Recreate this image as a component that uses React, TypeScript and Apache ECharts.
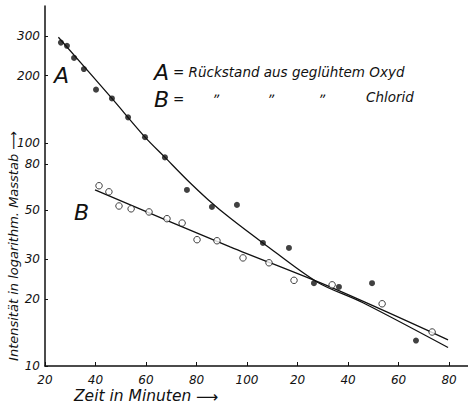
import React, { useEffect, useRef } from "react";
import * as echarts from "echarts";

// x axis (Zeit in Minuten)
const xTicks = [20, 40, 60, 80, 100, 120, 140, 160, 180];
const xTickLabels = ["20", "40", "60", "80", "100", "20", "40", "60", "80"];
// y axis (log)
const yTickValues = [10, 20, 30, 50, 80, 100, 200, 300];

// A = Rückstand aus geglühtem Oxyd (filled dots)
const aTimes = [26.3, 28.7, 31.5, 35.4, 40.2, 46.5, 52.9, 59.6, 67.5, 76.2, 86.1, 96.0, 106.3, 116.6, 126.5, 136.4, 149.5, 166.9];
const aValues = [281, 272, 240, 214, 173, 158, 130, 106, 86, 61.5, 51.6, 52.7, 35.6, 33.8, 23.5, 22.6, 23.5, 13.0];

// B = Chlorid (open circles)
const bTimes = [41.4, 45.3, 49.3, 54.1, 61.2, 68.3, 74.3, 80.2, 88.1, 98.4, 108.7, 118.6, 133.7, 153.5, 173.3];
const bValues = [64.2, 60.3, 52.1, 50.6, 49.0, 45.7, 43.7, 36.8, 36.4, 30.5, 29.0, 24.2, 23.1, 19.0, 14.2];

// fitted curves
const aCurveTimes = [25.3, 46.5, 59.6, 67.5, 76.2, 84.6, 93.3, 106.3, 127.7, 145.9, 179.6];
const aCurveValues = [297, 158, 106, 86, 68.3, 55.6, 46, 35.6, 23.8, 19.2, 12.1];
const bCurveTimes = [39.8, 93.3, 132.9, 179.6];
const bCurveValues = [61.5, 34.2, 22.6, 13.1];

const FONT = "'DejaVu Sans', sans-serif";
const INK = "#111";

const zip = (xs: number[], ys: number[]) => xs.map((x, i) => [x, ys[i]]);

export default function App() {
  const ref = useRef<HTMLDivElement>(null);
  useEffect(() => {
    if (!ref.current) return;
    const chart = echarts.init(ref.current, null, { renderer: "svg" });
    const txt = (text: string, x: number, y: number, size: number, extra: any = {}) => ({
      type: "text",
      x,
      y,
      style: {
        text,
        fill: INK,
        font: `italic ${size}px ${FONT}`,
        textVerticalAlign: "middle",
        ...extra,
      },
    });
    chart.setOption({
      animation: false,
      backgroundColor: "#fff",
      grid: { left: 45, right: 0, top: 6, bottom: 40, containLabel: false, outerBoundsMode: "none" },
      xAxis: {
        type: "value",
        min: 20,
        max: 187.5,
        interval: 20,
        axisLine: { lineStyle: { color: INK, width: 1.5 } },
        axisTick: { inside: true, length: 4, lineStyle: { color: INK } },
        splitLine: { show: false },
        axisLabel: {
          color: INK,
          fontFamily: FONT,
          fontStyle: "italic",
          fontSize: 12,
          margin: 8,
          showMaxLabel: false,
          formatter: (v: number) => {
            const i = xTicks.indexOf(v);
            return i >= 0 ? xTickLabels[i] : "";
          },
        },
      },
      yAxis: {
        type: "log",
        logBase: 10,
        min: 10,
        max: 410,
        axisLine: { lineStyle: { color: INK, width: 1.5 } },
        axisTick: { inside: true, length: 3, customValues: yTickValues, lineStyle: { color: INK } },
        splitLine: { show: false },
        minorTick: { show: false },
        axisLabel: {
          customValues: yTickValues,
          color: INK,
          fontFamily: FONT,
          fontStyle: "italic",
          fontSize: 12,
          margin: 5,
        },
      },
      series: [
        {
          type: "line",
          data: zip(aCurveTimes, aCurveValues),
          showSymbol: false,
          smooth: 0.3,
          lineStyle: { color: INK, width: 1.3 },
          z: 1,
        },
        {
          type: "line",
          data: zip(bCurveTimes, bCurveValues),
          showSymbol: false,
          smooth: 0.3,
          lineStyle: { color: INK, width: 1.3 },
          z: 1,
        },
        {
          type: "scatter",
          data: zip(aTimes, aValues),
          symbol: "circle",
          symbolSize: 6,
          itemStyle: { color: INK },
          z: 3,
        },
        {
          type: "scatter",
          data: zip(bTimes, bValues),
          symbol: "circle",
          symbolSize: 6.5,
          itemStyle: { color: "#fff", borderColor: INK, borderWidth: 1 },
          z: 3,
        },
      ],
      graphic: [
        txt("A", 154, 72, 22),
        txt("= Rückstand aus geglühtem Oxyd", 173, 72, 13.5),
        txt("B", 154, 99, 22),
        txt("=", 173, 99, 13.5),
        txt("„", 214, 91, 13.5),
        txt("„", 269, 91, 13.5),
        txt("„", 320, 91, 13.5),
        txt("Chlorid", 366, 97, 13.5),
        txt("A", 54, 75, 22),
        txt("B", 74, 212, 22),
        txt("Zeit in Minuten", 74, 396, 15.5),
        txt("⟶", 196, 397, 15.5),
        {
          type: "text",
          x: 13,
          y: 246,
          rotation: Math.PI / 2,
          style: {
            text: "Intensität in logarithm. Masstab ⟶",
            fill: INK,
            font: `italic 13px ${FONT}`,
            textAlign: "center",
            textVerticalAlign: "middle",
          },
        },
      ],
    });
    return () => chart.dispose();
  }, []);
  return <div ref={ref} style={{ position: "fixed", left: 0, top: 0, width: 468, height: 406 }} />;
}
